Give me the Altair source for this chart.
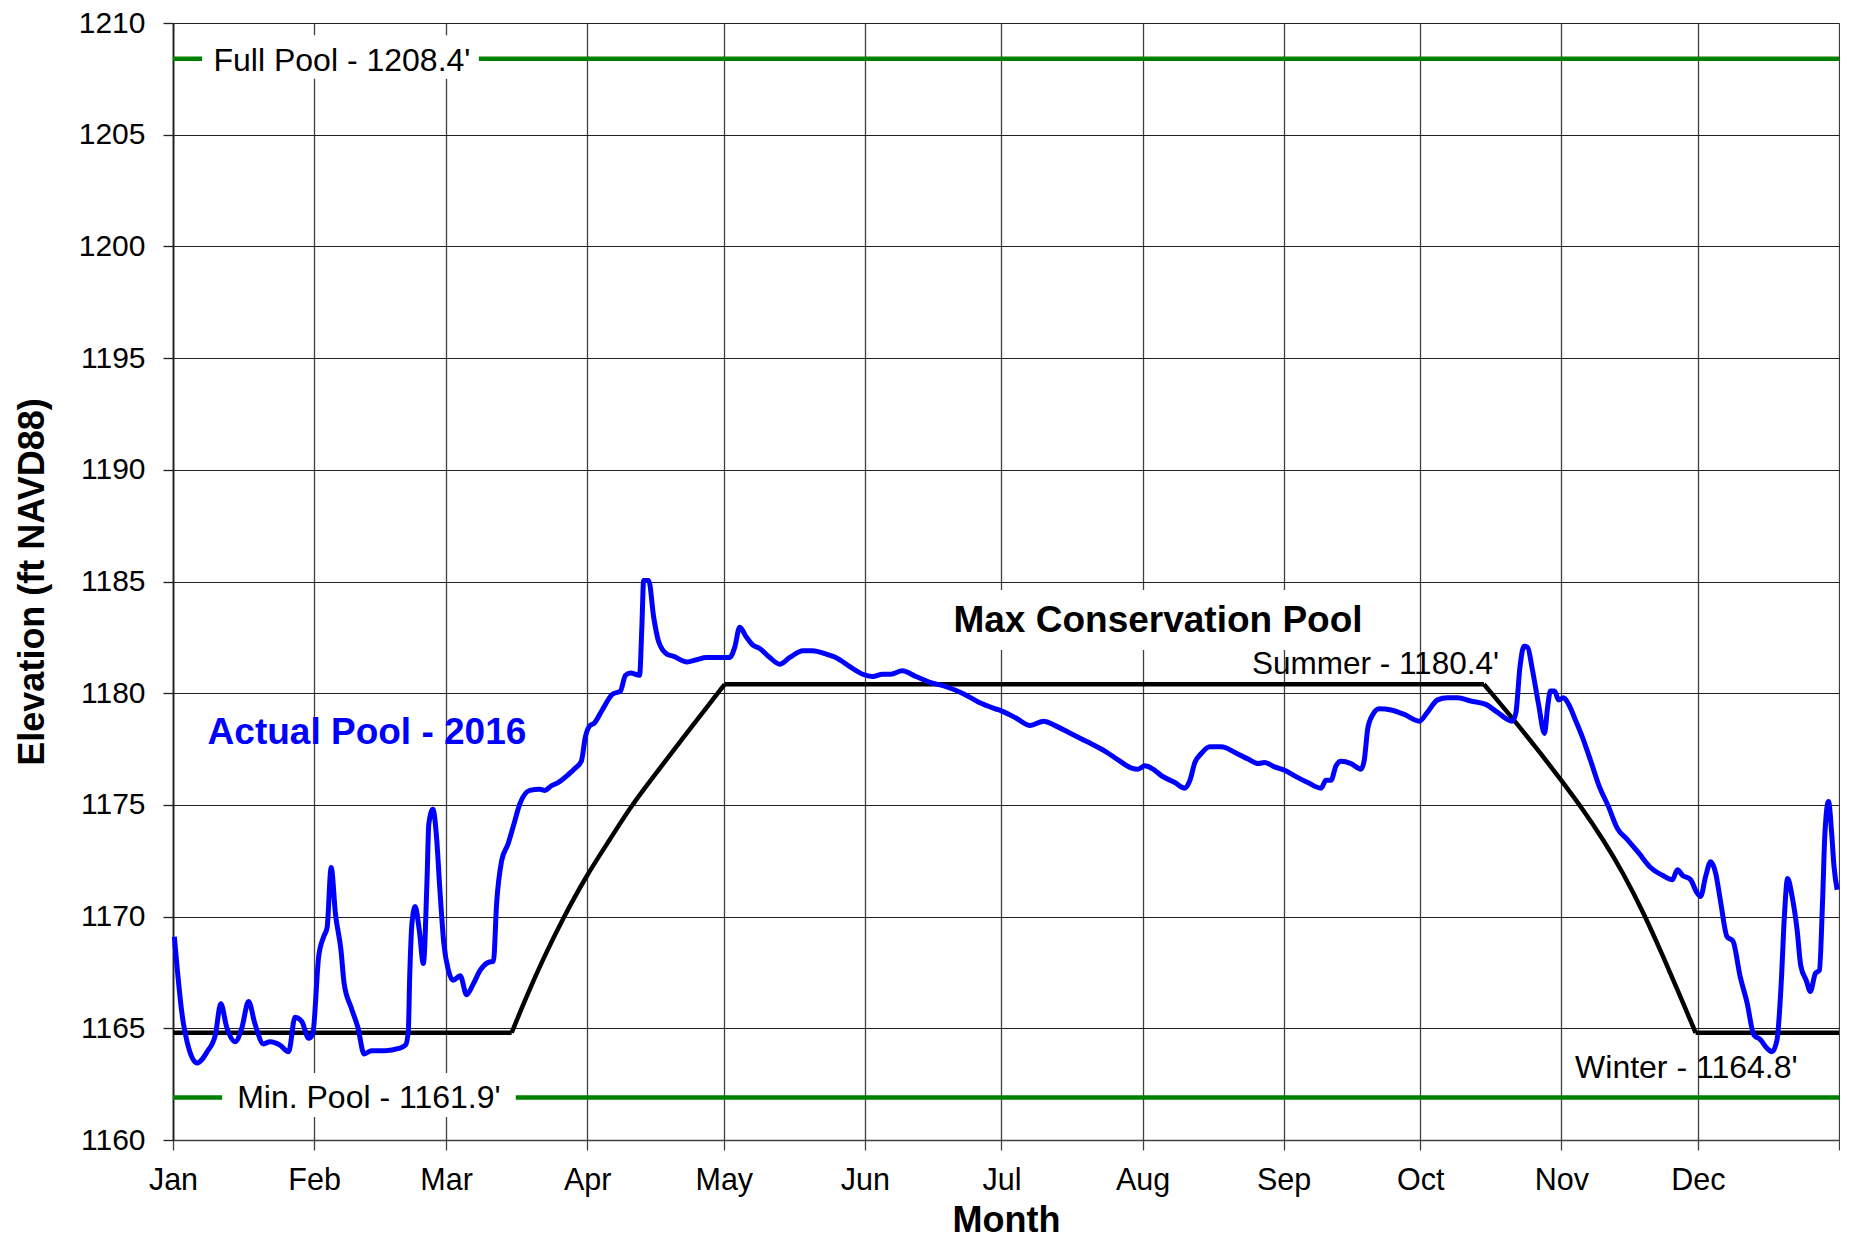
import altair as alt
import pandas as pd

# ---------------- data ----------------
# day-of-year offsets (0 = Jan 1 2016 00:00) and pool elevations (ft NAVD88)
pool_day = [0.3, 2.3, 5.3, 7.5, 9.3, 10.5, 11.8, 13.7, 15.1, 16.6, 18.0, 19.9, 21.3, 23.5, 25.4, 26.8, 28.3, 29.8, 30.7,
            32.0, 33.1, 33.85, 34.75, 35.7, 36.9, 37.6, 39.1, 40.6, 42.0, 43.6, 46.6, 49.6, 51.1, 51.7, 52.0, 52.5, 53.2,
            54.1, 55.0, 55.8, 56.2, 57.1, 57.9, 58.6, 59.5,
            60.5, 61.5, 63.1, 64.5, 66.0, 67.5, 69.3, 70.4, 71.1, 72.2, 73.6, 74.7, 76.2, 78.4, 80.6, 81.7, 83.1, 84.6,
            86.8, 88.4, 89.7, 90.6,
            91.6, 92.5, 94.3, 96.5, 98.3, 99.4, 100.5, 102.5, 103.0, 103.4, 104.5, 105.6, 106.7, 108.5, 110.0, 112.9,
            115.0, 117.2, 119.0,
            122.3, 123.4, 124.5, 126.0, 127.4, 128.9, 131.1, 133.3, 135.5, 138.4, 140.5, 143.5, 145.6, 148.6, 151.5,
            153.7, 155.9, 157.7, 160.2, 163.2, 166.1, 169.7, 173.4, 177.0, 180.7,
            182.1, 185.1, 188.3, 191.3, 193.8, 196.7, 199.6, 201.1, 204.8, 207.7, 210.6, 212.0,
            213.5, 215.3, 217.2, 220.1, 222.3, 223.4, 224.5, 225.9, 227.8, 230.3, 233.3, 236.2, 238.4, 239.8, 242.0,
            244.2, 246.4, 249.3, 252.2, 253.3, 254.4, 255.5, 256.6, 258.8, 261.0, 261.7, 262.5, 263.6, 265.0, 267.6,
            270.5, 273.8,
            275.6, 277.8, 280.0, 282.2, 285.1, 288.4, 290.9, 294.2, 295.0, 295.9, 296.8, 297.6, 298.6, 300.0, 301.3,
            302.0, 302.6, 303.5, 304.4,
            305.5, 306.6, 308.1, 309.5, 311.4, 313.2, 315.4, 317.3, 319.5, 322.0, 324.6, 327.2, 329.4, 330.5, 331.6,
            333.4, 334.7,
            335.6, 336.7, 337.8, 338.9, 340.0, 341.4, 342.7, 344.3, 345.8, 347.3, 348.7, 350.2, 351.3, 352.4, 353.3,
            354.0, 354.7, 355.7, 356.8, 357.6, 358.8, 359.7, 360.8, 361.7, 362.4, 362.9, 363.7, 364.4, 364.9, 365.6]
pool_elev = [1169.1, 1165.2, 1163.45, 1163.95, 1164.7, 1166.1, 1165.05, 1164.4, 1165.0, 1166.2, 1165.2, 1164.3, 1164.4,
             1164.25, 1163.95, 1165.5, 1165.3, 1164.55, 1164.75,
             1168.2, 1169.1, 1169.5, 1172.2, 1170.1, 1168.5, 1167.0, 1165.95, 1165.05, 1163.85, 1164.0, 1164.0, 1164.1,
             1164.25, 1164.9, 1167.3, 1169.7, 1170.45, 1169.4, 1167.9, 1171.6, 1174.15, 1174.8, 1173.55, 1171.3, 1168.8,
             1167.6, 1167.15, 1167.35, 1166.5, 1167.0, 1167.6, 1167.95, 1168.0, 1170.6, 1172.5, 1173.25, 1174.0, 1175.05,
             1175.65, 1175.7, 1175.65, 1175.85, 1176.0, 1176.35, 1176.65, 1176.95, 1178.05,
             1178.55, 1178.65, 1179.25, 1179.95, 1180.1, 1180.8, 1180.9, 1180.8, 1182.95, 1185.05, 1185.05, 1183.4,
             1182.3, 1181.75, 1181.65, 1181.4, 1181.5, 1181.6, 1181.6,
             1181.6, 1182.05, 1182.95, 1182.5, 1182.15, 1182.0, 1181.6, 1181.3, 1181.6, 1181.9, 1181.9, 1181.75, 1181.6,
             1181.2, 1180.85,
             1180.75, 1180.85, 1180.85, 1181.0, 1180.75, 1180.5, 1180.3, 1180.0, 1179.6, 1179.3,
             1179.2, 1178.9, 1178.55, 1178.75, 1178.55, 1178.25, 1177.95, 1177.8, 1177.4, 1177.0, 1176.65, 1176.6,
             1176.75, 1176.6, 1176.3, 1176.0, 1175.75, 1176.1, 1176.9, 1177.3, 1177.6, 1177.6, 1177.35, 1177.05, 1176.85,
             1176.9, 1176.7,
             1176.55, 1176.3, 1176.0, 1175.75, 1176.1, 1176.1, 1176.75, 1176.95, 1176.85, 1176.6, 1177.0, 1178.45,
             1179.05, 1179.3, 1179.25, 1179.05, 1178.75,
             1179.15, 1179.7, 1179.8, 1179.8, 1179.65, 1179.5, 1179.15, 1178.75, 1179.1, 1181.15, 1182.1, 1182.05,
             1181.1, 1179.5, 1178.2, 1179.4, 1180.1, 1180.1, 1179.7,
             1179.8, 1179.5, 1178.8, 1178.1, 1177.0, 1175.9, 1174.9, 1173.95, 1173.45, 1172.85, 1172.2, 1171.85,
             1171.65, 1172.1, 1171.85, 1171.65, 1171.1,
             1170.9, 1171.8, 1172.45, 1171.95, 1170.65, 1169.1, 1168.9, 1167.3, 1166.15, 1164.7, 1164.5, 1164.1,
             1163.95, 1164.5, 1167.0, 1170.0, 1171.7, 1170.9, 1169.4, 1167.8, 1167.15, 1166.65, 1167.45, 1167.6,
             1170.75, 1173.7, 1175.15, 1173.7, 1172.25, 1171.2]

# Max conservation pool guide curve (segments: winter, fill, summer, drawdown, winter)
guide_day = [0.0, 74.4,
             74.4, 77.7, 81.3, 85.5, 91.0, 96.0, 100.6, 107.0, 112.8, 117.2, 121.2,
             121.2, 288.0,
             288.0, 294.6, 299.7, 305.0, 309.2, 314.2, 318.6, 323.0, 327.4, 331.0, 334.5,
             334.5, 366.0]
guide_elev = [1164.8, 1164.8,
              1164.8, 1166.45, 1168.1, 1169.86, 1171.9, 1173.45, 1174.95, 1176.65, 1178.2, 1179.35, 1180.4,
              1180.4, 1180.4,
              1180.4, 1178.8, 1177.5, 1176.1, 1174.95, 1173.45, 1171.95, 1170.2, 1168.2, 1166.5, 1164.8,
              1164.8, 1164.8]
guide_seg = [0, 0,
             1, 1, 1, 1, 1, 1, 1, 1, 1, 1, 1,
             2, 2,
             3, 3, 3, 3, 3, 3, 3, 3, 3, 3, 3,
             4, 4]

full_pool = 1208.4
min_pool = 1161.9

month_starts = [(2016, m) for m in range(1, 13)] + [(2017, 1)]
y_ticks = list(range(1160, 1211, 5))

# annotations: text, day-of-year anchor, elevation at baseline
label_full = ("Full Pool - 1208.4'", 8.9, 1207.86)
label_min = ("Min. Pool - 1161.9'", 14.1, 1161.42)
label_max = ("Max Conservation Pool", 216.4, 1182.75)
label_summer = ("Summer - 1180.4'", 291.3, 1180.86)
label_winter = ("Winter - 1164.8'", 356.9, 1162.76)
label_actual = ("Actual Pool - 2016", 7.6, 1177.73)

# white label backgrounds (day start, day end, elev low, elev high)
box_full = (6.4, 67.2, 1207.5, 1209.45)
box_min = (10.8, 75.3, 1161.03, 1163.0)
box_max = (169.0, 263.7, 1181.93, 1184.62)

# ---------------- helpers ----------------
T0 = pd.Timestamp("2016-01-01")


def to_date(d):
    return (T0 + pd.to_timedelta(d, unit="D")).strftime("%Y-%m-%dT%H:%M:%S")


FONT = "Liberation Sans"

pool_df = pd.DataFrame({"date": [to_date(d) for d in pool_day], "elev": pool_elev})
guide_df = pd.DataFrame({"date": [to_date(d) for d in guide_day], "elev": guide_elev, "seg": guide_seg})
green_df = pd.DataFrame({"date": [to_date(0)] * 2, "date2": [to_date(366)] * 2,
                         "elev": [full_pool, min_pool]})
box_df = pd.DataFrame({
    "d1": [to_date(b[0]) for b in (box_full, box_min, box_max)],
    "d2": [to_date(b[1]) for b in (box_full, box_min, box_max)],
    "e1": [b[2] for b in (box_full, box_min, box_max)],
    "e2": [b[3] for b in (box_full, box_min, box_max)],
})

x_domain = [alt.DateTime(year=2016, month=1, date=1), alt.DateTime(year=2017, month=1, date=1)]
x_values = [alt.DateTime(year=y, month=m, date=1) for (y, m) in month_starts]

x_enc = alt.X("date:T",
              scale=alt.Scale(domain=x_domain),
              axis=alt.Axis(values=x_values, format="%b",
                            labelExpr="year(datum.value) > 2016 ? '' : datum.label",
                            title="Month", grid=True, labelFlush=False,
                            labelFontSize=30.5, labelFont=FONT, labelColor="black",
                            labelPadding=15, tickSize=10, tickColor="#404040", tickWidth=1.3,
                            domainColor="#404040", domainWidth=1.5,
                            gridColor="#404040", gridWidth=1.3,
                            titleFont=FONT, titleFontSize=36, titleFontWeight="bold", titleColor="black",
                            titleY=91, titleBaseline="alphabetic"))
y_enc = alt.Y("elev:Q",
              scale=alt.Scale(domain=[1160, 1210], nice=False, zero=False),
              axis=alt.Axis(values=y_ticks, format="d", title="Elevation (ft NAVD88)",
                            grid=True, labelFontSize=30, labelFont=FONT, labelColor="black",
                            labelPadding=18, tickSize=10, tickColor="#202020", tickWidth=1.3,
                            domainColor="#202020", domainWidth=1.8,
                            gridColor="#202020", gridWidth=1.1,
                            titleFont=FONT, titleFontSize=36, titleFontWeight="bold", titleColor="black",
                            titleX=-130, titleBaseline="alphabetic", titleAngle=270))

base_axes = alt.Chart(pool_df).mark_line(opacity=0).encode(x=x_enc, y=y_enc)

green = alt.Chart(green_df).mark_rule(color="#008000", strokeWidth=4.5).encode(
    x="date:T", x2="date2:T", y="elev:Q")

boxes = alt.Chart(box_df).mark_rect(color="white").encode(
    x="d1:T", x2="d2:T", y="e1:Q", y2="e2:Q")

guide = alt.Chart(guide_df).mark_line(color="black", strokeWidth=4.5, interpolate="basis").encode(
    x="date:T", y="elev:Q", detail="seg:N")

pool = alt.Chart(pool_df).mark_line(color="#0000FF", strokeWidth=5, interpolate="monotone").encode(
    x="date:T", y="elev:Q")


def text_layer(lbl, align, size, weight, color):
    df = pd.DataFrame({"date": [to_date(lbl[1])], "elev": [lbl[2]], "t": [lbl[0]]})
    return alt.Chart(df).mark_text(align=align, baseline="alphabetic", font=FONT, fontSize=size,
                                   fontWeight=weight, color=color).encode(
        x="date:T", y="elev:Q", text="t:N")


texts = [
    text_layer(label_full, "left", 32, "normal", "black"),
    text_layer(label_min, "left", 32, "normal", "black"),
    text_layer(label_max, "center", 37, "bold", "black"),
    text_layer(label_summer, "right", 31.5, "normal", "black"),
    text_layer(label_winter, "right", 32, "normal", "black"),
    text_layer(label_actual, "left", 37, "bold", "#0000FF"),
]

chart = alt.layer(base_axes, green, boxes, guide, pool, *texts).properties(
    width=1666, height=1117,
    autosize=alt.AutoSizeParams(type="none"),
    padding={"left": 165, "top": 15, "right": 1, "bottom": 92},
).configure_view(strokeWidth=0).configure(background="white")

chart.save("out.html", embed_options={"renderer": "svg", "actions": False})
